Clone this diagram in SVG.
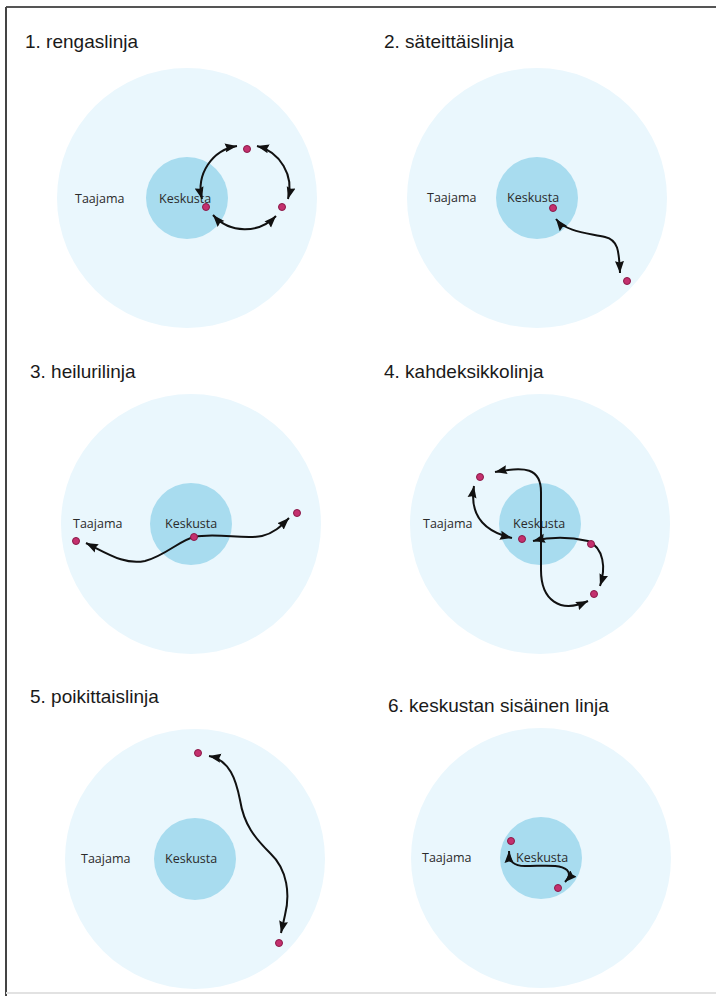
<svg xmlns="http://www.w3.org/2000/svg" width="716" height="996" viewBox="0 0 716 996">
<style>
.outer{fill:#eaf7fd}
.inner{fill:#a8dcef}
.title{font-family:"Liberation Sans",Arial,sans-serif;font-size:19px;fill:#1a1a1a}
.lbl{font-family:"Open Sans","Noto Sans",sans-serif;font-size:12.5px;fill:#2b2b2b}
.dot{fill:#c4306e;stroke:#8a1a48;stroke-width:1}
.line{fill:none;stroke:#111;stroke-width:2;marker-start:url(#ah);marker-end:url(#ah)}
</style>
<defs>
<marker id="ah" markerUnits="userSpaceOnUse" markerWidth="13" markerHeight="10" refX="12" refY="5" orient="auto-start-reverse" viewBox="0 0 13 10">
<path d="M0,0.5 L12,5 L0,9.5 L1.5,5 z" fill="#111"/>
</marker>
</defs>
<rect width="716" height="996" fill="#fff"/>
<g id="frame">
<line x1="6" y1="7" x2="716" y2="7" stroke="#555" stroke-width="2"/>
<line x1="6" y1="7" x2="6" y2="996" stroke="#444" stroke-width="2"/>
<line x1="6" y1="993" x2="716" y2="993" stroke="#e2e2e2" stroke-width="2"/>
</g>

<g id="panel1">
<text class="title" x="25" y="48">1. rengaslinja</text>
<circle class="outer" cx="187" cy="198" r="130"/>
<circle class="inner" cx="187" cy="198" r="41"/>
<text class="lbl" x="75" y="203">Taajama</text>
<text class="lbl" x="159" y="203">Keskusta</text>
</g>
<g id="panel2">
<text class="title" x="384" y="48">2. säteittäislinja</text>
<circle class="outer" cx="537" cy="198" r="130"/>
<circle class="inner" cx="537" cy="198" r="41"/>
<text class="lbl" x="427" y="202">Taajama</text>
<text class="lbl" x="507" y="202">Keskusta</text>
</g>
<g id="panel3">
<text class="title" x="30" y="378">3. heilurilinja</text>
<circle class="outer" cx="191" cy="524" r="130"/>
<circle class="inner" cx="191" cy="524" r="41"/>
<text class="lbl" x="73" y="528">Taajama</text>
<text class="lbl" x="165" y="528">Keskusta</text>
</g>
<g id="panel4">
<text class="title" x="384" y="378">4. kahdeksikkolinja</text>
<circle class="outer" cx="540" cy="524" r="130"/>
<circle class="inner" cx="540" cy="524" r="41"/>
<text class="lbl" x="423" y="528">Taajama</text>
<text class="lbl" x="513" y="528">Keskusta</text>
</g>
<g id="panel5">
<text class="title" x="30" y="703">5. poikittaislinja</text>
<circle class="outer" cx="195" cy="859" r="130"/>
<circle class="inner" cx="195" cy="859" r="41"/>
<text class="lbl" x="81" y="863">Taajama</text>
<text class="lbl" x="165" y="863">Keskusta</text>
</g>
<g id="panel6">
<text class="title" x="388" y="712">6. keskustan sisäinen linja</text>
<circle class="outer" cx="541" cy="858" r="130"/>
<circle class="inner" cx="541" cy="858" r="41"/>
<text class="lbl" x="422" y="862">Taajama</text>
<text class="lbl" x="516" y="862">Keskusta</text>
</g>

<g id="connectors">
<path class="line" d="M237,146 A43,43 0 0,0 202,199"/>
<path class="line" d="M257,146 A43,43 0 0,1 288,199"/>
<path class="line" d="M213,215 A43,43 0 0,0 276,216"/>
<path class="line" d="M556,219 C566,232 588,233 605,237 C618,240 619,250 620,273"/>
<path class="line" d="M86,543 C110,555 125,565 145,561 C165,556 180,540 194,537 C215,532 245,540 262,536 C275,533 282,525 289,518"/>
<path class="line" d="M495,472 C525,466 541,468 541,492 L541,570 C541,600 560,614 588,601"/>
<path class="line" d="M474,486 C470,510 478,530 512,538"/>
<path class="line" d="M533,541 C550,537 570,537 588,541 C604,548 606,568 600,586"/>
<path class="line" d="M209,756 C230,760 236,780 240,800 C244,825 255,838 270,853 C288,870 290,895 285,915 L281,933"/>
<path class="line" d="M509,851 C509,862 514,866 525,866 C545,866 560,864 567,870 C571,874 569,878 565,882"/>
</g>

<g id="dots">
<circle class="dot" cx="247" cy="149" r="3.5"/>
<circle class="dot" cx="206" cy="207" r="3.5"/>
<circle class="dot" cx="282" cy="207" r="3.5"/>
<circle class="dot" cx="553" cy="208" r="3.5"/>
<circle class="dot" cx="627" cy="281" r="3.5"/>
<circle class="dot" cx="76" cy="541" r="3.5"/>
<circle class="dot" cx="194" cy="537" r="3.5"/>
<circle class="dot" cx="297" cy="513" r="3.5"/>
<circle class="dot" cx="480" cy="477" r="3.5"/>
<circle class="dot" cx="522" cy="539" r="3.5"/>
<circle class="dot" cx="591" cy="544" r="3.5"/>
<circle class="dot" cx="594" cy="594" r="3.5"/>
<circle class="dot" cx="198" cy="753" r="3.5"/>
<circle class="dot" cx="279" cy="943" r="3.5"/>
<circle class="dot" cx="511" cy="841" r="3.5"/>
<circle class="dot" cx="558" cy="888" r="3.5"/>
</g>
</svg>
